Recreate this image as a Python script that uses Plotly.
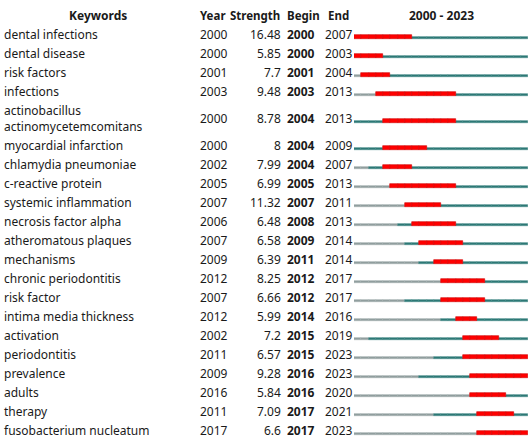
import plotly.graph_objects as go

keywords = ["dental infections", "dental disease", "risk factors", "infections",
            "actinobacillus<br>actinomycetemcomitans", "myocardial infarction",
            "chlamydia pneumoniae", "c-reactive protein", "systemic inflammation",
            "necrosis factor alpha", "atheromatous plaques", "mechanisms",
            "chronic periodontitis", "risk factor", "intima media thickness",
            "activation", "periodontitis", "prevalence", "adults", "therapy",
            "fusobacterium nucleatum"]
years = [2000, 2000, 2001, 2003, 2000, 2000, 2002, 2005, 2007, 2006, 2007, 2009,
         2012, 2007, 2012, 2002, 2011, 2009, 2016, 2011, 2017]
strength = [16.48, 5.85, 7.7, 9.48, 8.78, 8, 7.99, 6.99, 11.32, 6.48, 6.58, 6.39,
            8.25, 6.66, 5.99, 7.2, 6.57, 9.28, 5.84, 7.09, 6.6]
begin = [2000, 2000, 2001, 2003, 2004, 2004, 2004, 2005, 2007, 2008, 2009, 2011,
         2012, 2012, 2014, 2015, 2015, 2016, 2016, 2017, 2017]
end = [2007, 2003, 2004, 2013, 2013, 2009, 2007, 2013, 2011, 2013, 2014, 2014,
       2017, 2017, 2016, 2019, 2023, 2023, 2020, 2021, 2023]
first_year, last_year = 2000, 2023

W, H = 530, 442
FONT = "Noto Sans"
TXT = "#1a1a1a"

# row centre positions (pixel-like y axis), 2-line row is taller
def row_y(i):
    return 34 + 19 * i + 8 * (i >= 4) + 8 * (i >= 5)

ys = [row_y(i) for i in range(len(keywords))]

cells = {"grey": ([], []), "teal": ([], []), "red": ([], [])}
for i in range(len(keywords)):
    for yr in range(first_year, last_year + 1):
        if begin[i] <= yr <= end[i]:
            k = "red"
        elif yr < years[i]:
            k = "grey"
        else:
            k = "teal"
        cells[k][0].append(yr)
        cells[k][1].append(ys[i])

style = {
    "grey": dict(color="#8f9d9d", line="#a3afaf", off=4.0, w=2.6),
    "teal": dict(color="#2b7774", line="#438986", off=4.0, w=2.6),
    "red": dict(color="#ff0000", line="#d00000", off=3.0, w=4.6),
}

fig = go.Figure()
for k in ["grey", "teal", "red"]:
    xs, yy = cells[k]
    s = style[k]
    fig.add_trace(go.Bar(
        orientation="h", base=xs, x=[1] * len(xs), y=[v + s["off"] for v in yy],
        width=s["w"], marker=dict(color=s["color"], line=dict(color=s["line"], width=0.6)),
        xaxis="x", yaxis="y", hoverinfo="skip", showlegend=False))

ann = []
def add(text, px, py, xanchor="left", bold=False, size=12):
    ann.append(dict(text=f"<b>{text}</b>" if bold else text, x=px / W, xref="paper",
                    y=py, yref="y", xanchor=xanchor, yanchor="middle", showarrow=False,
                    align="left", font=dict(family=FONT, size=size, color=TXT)))

# headers
add("Keywords", 98, 15, "center", True)
add("Year", 198, 15, "left", True, 11.5)
add("Strength", 282, 15, "right", True, 11.5)
add("Begin", 285, 15, "left", True, 11.5)
add("End", 326, 15, "left", True, 11.5)
add(f"{first_year} - {last_year}", 441, 15, "center", True)

for i, kw in enumerate(keywords):
    y = ys[i]
    add(kw, 2, y, "left")
    add(str(years[i]), 198, y, "left")
    add(f"{strength[i]:g}", 283, y, "right")
    add(str(begin[i]), 285, y, "left", True)
    add(str(end[i]), 323, y, "left")

fig.update_layout(
    width=W, height=H, margin=dict(l=0, r=0, t=0, b=0),
    paper_bgcolor="white", plot_bgcolor="white", barmode="overlay", bargap=0,
    xaxis=dict(range=[first_year, last_year + 1], domain=[354 / W, 528 / W],
               visible=False, fixedrange=True),
    yaxis=dict(range=[H, 0], domain=[0, 1], visible=False, fixedrange=True),
    annotations=ann, showlegend=False,
)
fig.write_html("out.html", config={"displayModeBar": False},
               post_script="document.body.style.margin='0';document.body.style.overflow='hidden';")
